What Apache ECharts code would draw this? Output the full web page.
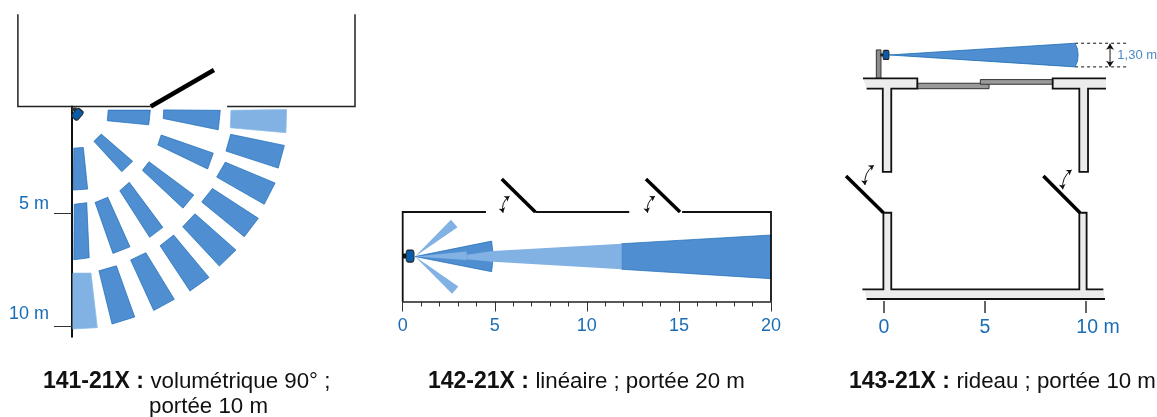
<!DOCTYPE html>
<html><head><meta charset="utf-8">
<style>html,body{margin:0;padding:0;background:#fff}#c{width:1157px;height:417px}</style>
<script src="https://cdn.jsdelivr.net/npm/echarts@6/dist/echarts.min.js"></script>
</head><body><div id="c"></div>
<script>
// ---------- Data, in metres ----------
const ticksA = [5, 10];
const zonesDarkA = [
 [[1.60,.43],[3.46,.43],[3.39,1.08],[1.56,.90]],
 [[4.05,.42],[6.55,.44],[6.46,1.30],[4.03,.80]],
 [[1.29,1.49],[2.68,2.69],[2.20,3.15],[.97,1.81]],
 [[3.94,1.53],[6.24,2.33],[5.99,3.03],[3.79,1.97]],
 [[7.01,1.50],[9.38,1.99],[9.11,2.99],[6.80,2.24]],
 [[.08,2.11],[.50,2.08],[.69,3.92],[.06,3.96]],
 [[3.40,2.71],[5.38,4.18],[4.90,4.76],[3.11,3.09]],
 [[6.77,2.73],[8.97,3.65],[8.49,4.59],[6.39,3.39]],
 [[1.02,4.51],[1.58,4.28],[2.56,6.47],[1.81,6.76]],
 [[2.11,3.99],[2.53,3.62],[4.01,5.61],[3.43,6.05]],
 [[5.73,4.49],[6.20,3.89],[8.23,5.21],[7.61,6.02]],
 [[4.89,5.58],[5.43,5.01],[7.24,6.61],[6.51,7.32]],
 [[3.89,6.42],[4.49,5.95],[6.05,7.82],[5.21,8.42]],
 [[2.59,7.05],[3.26,6.73],[4.52,8.79],[3.61,9.28]],
 [[1.19,7.53],[1.96,7.31],[2.77,9.57],[1.77,9.88]],
 [[.10,4.59],[.65,4.52],[.76,6.95],[.08,7.04]]
];
const zonesLightA = [
 [[7.02,.44],[9.48,.40],[9.45,1.43],[6.99,1.21]],
 [[.04,7.63],[.84,7.63],[1.12,10.04],[.04,10.10]]
];
const wallsA = [
 [[-2.39,-3.81],[-2.39,.27],[3.48,.27]],
 [[6.85,.27],[12.5,.27],[12.5,-3.81]]
];
const doorA = [[[3.48,.27],[6.27,-1.34]]];
const sensorA = [[.24,.61]];
const plugA = [[.1,.4]];

const beamsDarkB = [
 [[.67,-.03],[4.83,.81],[4.89,.27],[4.89,-.31],[4.83,-.85]],
 [[11.89,.67],[20,1.14],[20,-1.23],[11.89,-.72]]
];
const beamsLightB = [
 [[3.47,.07],[4.89,.27],[11.89,.67],[11.89,-.72],[4.89,-.31],[3.47,-.18]],
 [[.67,-.03],[3.47,.24],[3.47,-.22]],
 [[.67,-.03],[2.62,1.97],[2.98,1.56]],
 [[.67,-.03],[3.02,-1.65],[2.68,-2.05]]
];
const wallsB = [
 [[0,-2.47],[0,2.39],[4.52,2.39]],
 [[7.20,2.39],[12.30,2.39]],
 [[15.17,2.39],[20,2.39],[20,-2.47]]
];
const doorsB = [[[5.38,4.18],[7.20,2.39]],[[13.21,4.18],[15.06,2.39]]];
const swingsB = [[[5.80,3.25],[5.45,2.35]],[[13.70,3.25],[13.30,2.35]]];
const sensorB = [[.40,0]];
const plugB = [[.17,0]];

const beamC = [[[.26,12.18],[9.46,12.76],[9.58,12.47],[9.61,12.18],[9.58,11.88],[9.46,11.59]]];
const dashesC = [[[9.46,12.76],[12.08,12.76]],[[9.46,11.59],[12.08,11.59]]];
const heightC = [[[11.19,12.74],[11.19,11.60]]];
const heightLabelC = [[11.55,12.17]];
const postC = [[[-.38,12.43],[-.15,12.43],[-.15,11.02],[-.38,11.02]]];
const sensorC = [[.10,12.18]];
const plugC = [[-.08,12.18]];
const glassC = [
 [[1.65,10.78],[5.20,10.78],[5.20,10.51],[1.65,10.51]],
 [[4.77,10.96],[8.35,10.96],[8.35,10.73],[4.77,10.73]]
];
const wallFillsC = [
 [[-.86,10.51],[-.06,10.51],[-.06,6.39],[.36,6.39],[.36,10.51],[1.65,10.51],[1.65,11.02],[-1.04,11.02]],
 [[10.99,11.02],[8.35,11.02],[8.35,10.51],[9.67,10.51],[9.67,6.39],[10.10,6.39],[10.10,10.51],[10.99,10.51]],
 [[-.98,.58],[-.03,.58],[-.03,4.37],[.36,4.37],[.36,.58],[9.67,.58],[9.67,4.37],[10.03,4.37],[10.03,.58],[10.86,.58],[10.94,.10],[-.86,.10]]
];
const wallLinesC = [
 [[-.86,10.51],[-.06,10.51],[-.06,6.39],[.36,6.39],[.36,10.51],[1.65,10.51],[1.65,11.02],[-1.04,11.02]],
 [[10.99,11.02],[8.35,11.02],[8.35,10.51],[9.67,10.51],[9.67,6.39],[10.10,6.39],[10.10,10.51],[10.99,10.51]],
 [[-1.07,.58],[-.03,.58],[-.03,4.37],[.36,4.37],[.36,.58],[9.67,.58],[9.67,4.37],[10.03,4.37],[10.03,.58],[10.86,.58]],
 [[-.86,.10],[10.94,.10]]
];
const doorsC = [[[-1.88,6.19],[-.03,4.37]],[[7.89,6.19],[9.70,4.37]]];
const swingsC = [[[-.50,6.72],[-.94,5.74]],[[9.29,6.49],[8.85,5.53]]];

const ticksC = [0, 5, 10];
const captions = [
 {bold:'141-21X : ', text:'volumétrique 90° ;', left:43, top:370},
 {bold:'', text:'portée 10 m', left:149, top:396},
 {bold:'142-21X : ', text:'linéaire ; portée 20 m', left:428, top:370},
 {bold:'143-21X : ', text:'rideau ; portée 10 m', left:849, top:370}
];

// ---------- Styles ----------
const FONT = '"Liberation Sans", Arial, sans-serif';
const BLUE = '#1a6db5', DARK = '#4f8ed1', LIGHT = '#82b2e3', EDGE = '#1b6cb4', SENSOR = '#0b5ca8';

function poly(g, polys, fill, stroke, lw, z){
  return {type:'custom', coordinateSystem:'cartesian2d', xAxisIndex:g, yAxisIndex:g, z, silent:true, clip:false,
    data:polys.map(p=>p[0]), encode:{x:0,y:1}, animation:false,
    renderItem:(params,api)=>({type:'polygon',
      shape:{points:polys[params.dataIndex].map(pt=>api.coord(pt))},
      style:{fill, stroke:stroke||null, lineWidth:lw||0}})};
}
function line(g, paths, color, width, z, extra){
  const e = extra||{};
  return Object.assign({type:'lines', coordinateSystem:'cartesian2d', xAxisIndex:g, yAxisIndex:g, z, silent:true, clip:false,
    polyline:!e.curveness, animation:false, symbol:'none', 
    lineStyle:{color, width, opacity:1, type:e.dash||'solid', curveness:e.curveness||0, cap:e.cap||'butt', join:'miter'},
    data:paths.map(p=>({coords:p}))}, e.series||{});
}
function dot(g, pts, size, rot, color, border, sym, z){
  return {type:'scatter', xAxisIndex:g, yAxisIndex:g, z, silent:true, animation:false, clip:false,
    data:pts, symbol:sym, symbolSize:size, symbolRotate:rot,
    itemStyle:{color, borderColor:border, borderWidth:border?1:0, opacity:1}};
}
const arrowEnds = {series:{symbol:['arrow','arrow'], symbolSize:5}};
const hiddenY = (min,max,g)=>({gridIndex:g,type:'value',min,max,show:false});

const option = {
  backgroundColor:'#fff', animation:false,
  title: captions.map(c=>({left:c.left, top:c.top, padding:0,
    text:(c.bold?'{b|'+c.bold+'}':'')+'{r|'+c.text+'}',
    textStyle:{rich:{
      b:{fontFamily:FONT,fontWeight:'bold',fontSize:23,color:'#111'},
      r:{fontFamily:FONT,fontWeight:'normal',fontSize:22.3,color:'#111'}}}})),
  grid:[
    {left:72, top:106.5, width:283, height:230.2},
    {left:402.7, top:212, width:368.3, height:89.5},
    {left:884, top:18.2, width:202, height:282.8}
  ],
  xAxis:[
    {gridIndex:0,type:'value',min:0,max:12.5,show:false},
    {gridIndex:1,type:'value',min:0,max:20,interval:5,
      axisLine:{show:true,onZero:false,lineStyle:{color:'#222',width:1.5}},
      axisTick:{show:true,length:10,lineStyle:{color:'#333',width:1}},
      minorTick:{show:true,splitNumber:5,length:5,lineStyle:{color:'#333',width:1}},
      splitLine:{show:false},
      axisLabel:{color:BLUE,fontSize:18,fontFamily:FONT,margin:16,showMaxLabel:true,showMinLabel:true}},
    {gridIndex:2,type:'value',min:0,max:10,interval:5,
      axisLine:{show:false,onZero:false},
      axisTick:{show:true,length:12,lineStyle:{color:'#333',width:1.5}},
      splitLine:{show:false},
      axisLabel:{color:BLUE,fontSize:19.5,fontFamily:FONT,margin:17,showMaxLabel:true,showMinLabel:true,
        formatter:v=>v===ticksC[2]?'{m|'+v+' m}':'{n|'+v+'}',
        rich:{m:{color:BLUE,fontSize:19.5,fontFamily:FONT,padding:[0,0,0,24]},n:{color:BLUE,fontSize:19.5,fontFamily:FONT}}}}
  ],
  yAxis:[
    {gridIndex:0,type:'value',inverse:true,min:.27,max:10.44,
      axisLine:{show:true,onZero:false,lineStyle:{color:'#111',width:2}},
      axisTick:{show:true,length:18,customValues:ticksA,lineStyle:{color:'#333',width:1}},
      splitLine:{show:false},
      axisLabel:{customValues:ticksA,margin:23,verticalAlign:'bottom',color:BLUE,fontFamily:FONT,fontSize:18,
        formatter:v=>v===ticksA[0]?'{a|'+v+' m}':'{b|'+v+' m}',
        rich:{a:{color:BLUE,fontFamily:FONT,fontSize:18,padding:[0,0,1,0]},b:{color:BLUE,fontFamily:FONT,fontSize:18,padding:[0,0,4,0]}}}},
    hiddenY(-2.47,2.39,1),
    hiddenY(0,14,2)
  ],
  series:[
    poly(0,zonesDarkA,DARK,EDGE,.7,3),
    poly(0,zonesLightA,LIGHT,'#8dbbe8',.7,3),
    line(0,wallsA,'#222',1.5,4),
    line(0,doorA,'#000',4.5,5),
    dot(0,plugA,[5,4],0,'#333',null,'rect',5),
    dot(0,sensorA,[8,11],-40,SENSOR,'#222','roundRect',6),

    poly(1,beamsDarkB,DARK,EDGE,.7,3),
    poly(1,beamsLightB,LIGHT,null,0,4),
    line(1,wallsB,'#111',1.8,5),
    line(1,doorsB,'#000',3.5,5),
    line(1,swingsB,'#111',1,5,Object.assign({curveness:-.35},arrowEnds)),
    dot(1,plugB,[6,5],0,'#111',null,'rect',5),
    dot(1,sensorB,[8,12],0,SENSOR,'#222','roundRect',6),

    poly(2,wallFillsC,'#ececec',null,0,2),
    line(2,wallLinesC,'#111',1.8,4),
    poly(2,glassC,'#9a9a9a','#333',1,3),
    poly(2,postC,'#8c8c8c','#333',1,3),
    line(2,doorsC,'#000',3.5,5),
    line(2,swingsC,'#111',1,5,Object.assign({curveness:-.3},arrowEnds)),
    poly(2,beamC,DARK,EDGE,.8,4),
    line(2,dashesC,'#111',1,3,{dash:[3,3]}),
    line(2,heightC,'#111',1,5,{curveness:.0001,series:{symbol:['arrow','arrow'],symbolSize:6}}),
    dot(2,plugC,[4,3],0,'#222',null,'rect',5),
    dot(2,sensorC,[6,9],0,SENSOR,'#222','roundRect',6),
    {type:'scatter',xAxisIndex:2,yAxisIndex:2,z:6,silent:true,animation:false,clip:false,data:heightLabelC,symbolSize:0,
      label:{show:true,position:'right',distance:0,formatter:'1,30 m',color:BLUE,fontFamily:FONT,fontSize:13}}
  ]
};
echarts.init(document.getElementById('c'),null,{renderer:'canvas'}).setOption(option);
</script></body></html>
